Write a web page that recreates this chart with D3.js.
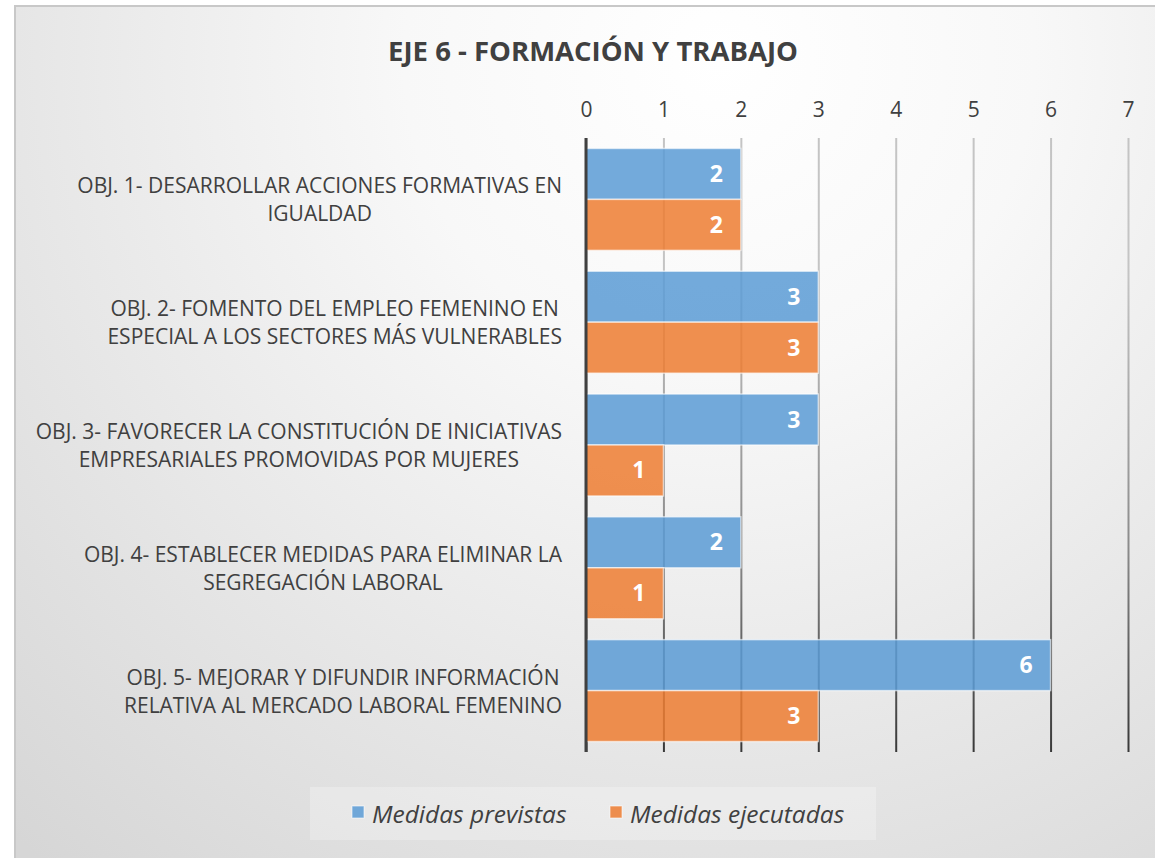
<!DOCTYPE html>
<html>
<head>
<meta charset="utf-8">
<script src="https://cdn.jsdelivr.net/npm/d3@7"></script>
<style>
  html, body { margin: 0; padding: 0; background: #fff; }
  svg { display: block; font-family: "Open Sans", "DejaVu Sans", sans-serif; }
</style>
</head>
<body>
<svg id="chart" width="1155" height="858"></svg>
<script>
// data
const categories = ["obj1", "obj2", "obj3", "obj4", "obj5"];
const labelLines = [
    ["OBJ. 1- DESARROLLAR ACCIONES FORMATIVAS EN", "IGUALDAD"],
    ["OBJ. 2- FOMENTO DEL EMPLEO FEMENINO EN", "ESPECIAL A LOS SECTORES MÁS VULNERABLES"],
    ["OBJ. 3- FAVORECER LA CONSTITUCIÓN DE INICIATIVAS", "EMPRESARIALES PROMOVIDAS POR MUJERES"],
    ["OBJ. 4- ESTABLECER MEDIDAS PARA ELIMINAR LA", "SEGREGACIÓN LABORAL"],
    ["OBJ. 5- MEJORAR Y DIFUNDIR INFORMACIÓN", "RELATIVA AL MERCADO LABORAL FEMENINO"]
];
const seriesNames = ["Medidas previstas", "Medidas ejecutadas"];
const previstas = [2, 3, 3, 2, 6];
const ejecutadas = [2, 3, 1, 1, 3];
const ticks = [0, 1, 2, 3, 4, 5, 6, 7];

const colours = ["#5b9bd5", "#ed7d31"];
const textCol = "#404040";

const width = 1155, height = 858;
const svg = d3.select("#chart");
const defs = svg.append("defs");

// background
const bg = defs.append("radialGradient")
    .attr("id", "bg")
    .attr("gradientUnits", "userSpaceOnUse")
    .attr("cx", 720).attr("cy", 60).attr("r", 1050);
bg.append("stop").attr("offset", "0").attr("stop-color", "#ffffff");
bg.append("stop").attr("offset", "0.3").attr("stop-color", "#f8f8f8");
bg.append("stop").attr("offset", "1").attr("stop-color", "#d6d6d6");

svg.append("rect")
    .attr("x", 0).attr("y", 0).attr("width", width).attr("height", height)
    .attr("fill", "#fff");
svg.append("rect")
    .attr("x", 15).attr("y", 6).attr("width", 1160).attr("height", 870)
    .attr("fill", "url(#bg)")
    .attr("stroke", "#c8c8c8")
    .attr("stroke-width", 2);

// title
svg.append("text")
    .attr("x", 593).attr("y", 61)
    .attr("text-anchor", "middle")
    .attr("font-size", 27.5)
    .attr("font-weight", "bold")
    .attr("fill", textCol)
    .text("EJE 6 - FORMACIÓN Y TRABAJO");

const plotTop = 138, plotBottom = 752;

const x = d3.scaleLinear().domain([0, 7]).range([586, 1128]);
const y = d3.scaleBand().domain(categories).range([plotTop, plotBottom])
    .paddingInner(0.17).paddingOuter(0.085);
const ySub = d3.scaleBand().domain([0, 1]).range([0, y.bandwidth()]);

// gridline gradient
const gg = defs.append("linearGradient")
    .attr("id", "grid")
    .attr("gradientUnits", "userSpaceOnUse")
    .attr("x1", 0).attr("y1", plotTop).attr("x2", 0).attr("y2", plotBottom);
gg.append("stop").attr("offset", "0").attr("stop-color", "#c4c4c4");
gg.append("stop").attr("offset", "0.45").attr("stop-color", "#8a8a8a");
gg.append("stop").attr("offset", "1").attr("stop-color", "#000000");

// top axis
const axis = svg.append("g")
    .attr("transform", "translate(0," + plotTop + ")")
    .call(d3.axisTop(x).tickValues(ticks).tickFormat(d3.format("d")).tickSize(0).tickSizeOuter(0));
axis.select(".domain").remove();
axis.selectAll(".tick line")
    .attr("y1", 0).attr("y2", plotBottom - plotTop)
    .attr("stroke", "url(#grid)")
    .attr("stroke-width", 2);
axis.selectAll(".tick text")
    .attr("y", -21)
    .attr("font-size", 21)
    .attr("font-family", "Open Sans")
    .attr("fill", textCol);

// bars
const rows = categories.map(function (c, i) {
    return { cat: c, vals: [previstas[i], ejecutadas[i]] };
});

const groups = svg.append("g")
    .selectAll("g")
    .data(rows)
    .enter()
    .append("g")
    .attr("transform", function (d) { return "translate(0," + y(d.cat) + ")"; });

const bars = groups.selectAll("g.bar")
    .data(function (d) { return d.vals.map(function (v, k) { return { v: v, k: k }; }); })
    .enter()
    .append("g")
    .attr("class", "bar");

bars.append("rect")
    .attr("x", x(0))
    .attr("y", function (d) { return ySub(d.k); })
    .attr("width", function (d) { return x(d.v) - x(0); })
    .attr("height", ySub.bandwidth())
    .attr("fill", function (d) { return colours[d.k]; })
    .attr("fill-opacity", 0.85)
    .attr("stroke", "#ffffff")
    .attr("stroke-opacity", 0.6)
    .attr("stroke-width", 1.5);

bars.append("text")
    .attr("x", function (d) { return x(d.v) - 18; })
    .attr("y", function (d) { return ySub(d.k) + ySub.bandwidth() / 2 + 8; })
    .attr("text-anchor", "end")
    .attr("font-size", 23)
    .attr("font-weight", "bold")
    .attr("fill", "#ffffff")
    .text(function (d) { return d.v; });

// zero line
svg.append("line")
    .attr("x1", x(0)).attr("x2", x(0))
    .attr("y1", plotTop).attr("y2", plotBottom)
    .attr("stroke", "#404040")
    .attr("stroke-width", 3);

// category labels
const labelRight = 562;
const labels = svg.append("g")
    .selectAll("text")
    .data(rows)
    .enter()
    .append("text")
    .attr("font-size", 21)
    .attr("fill", textCol)
    .attr("text-anchor", "middle");

labels.each(function (d, i) {
    const t = d3.select(this);
    const mid = y(d.cat) + y.bandwidth() / 2;
    labelLines[i].forEach(function (line, j) {
        t.append("tspan")
            .attr("y", mid - 6 + j * 28)
            .text(line);
    });
    let maxW = 0;
    t.selectAll("tspan").each(function () {
        maxW = Math.max(maxW, this.getComputedTextLength());
    });
    t.selectAll("tspan").attr("x", labelRight - maxW / 2);
});

// legend
const legend = svg.append("g");
legend.append("rect")
    .attr("x", 310).attr("y", 787).attr("width", 566).attr("height", 53)
    .attr("fill", "#ffffff")
    .attr("fill-opacity", 0.25);

const legendX = [352, 610];
seriesNames.forEach(function (name, k) {
    legend.append("rect")
        .attr("x", legendX[k]).attr("y", 806)
        .attr("width", 12).attr("height", 12)
        .attr("fill", colours[k])
        .attr("fill-opacity", 0.85)
        .attr("stroke", "#ffffff")
        .attr("stroke-opacity", 0.6);
    legend.append("text")
        .attr("x", legendX[k] + 20).attr("y", 823)
        .attr("font-size", 24.5)
        .attr("font-style", "italic")
        .attr("fill", textCol)
        .text(name);
});
</script>
</body>
</html>
